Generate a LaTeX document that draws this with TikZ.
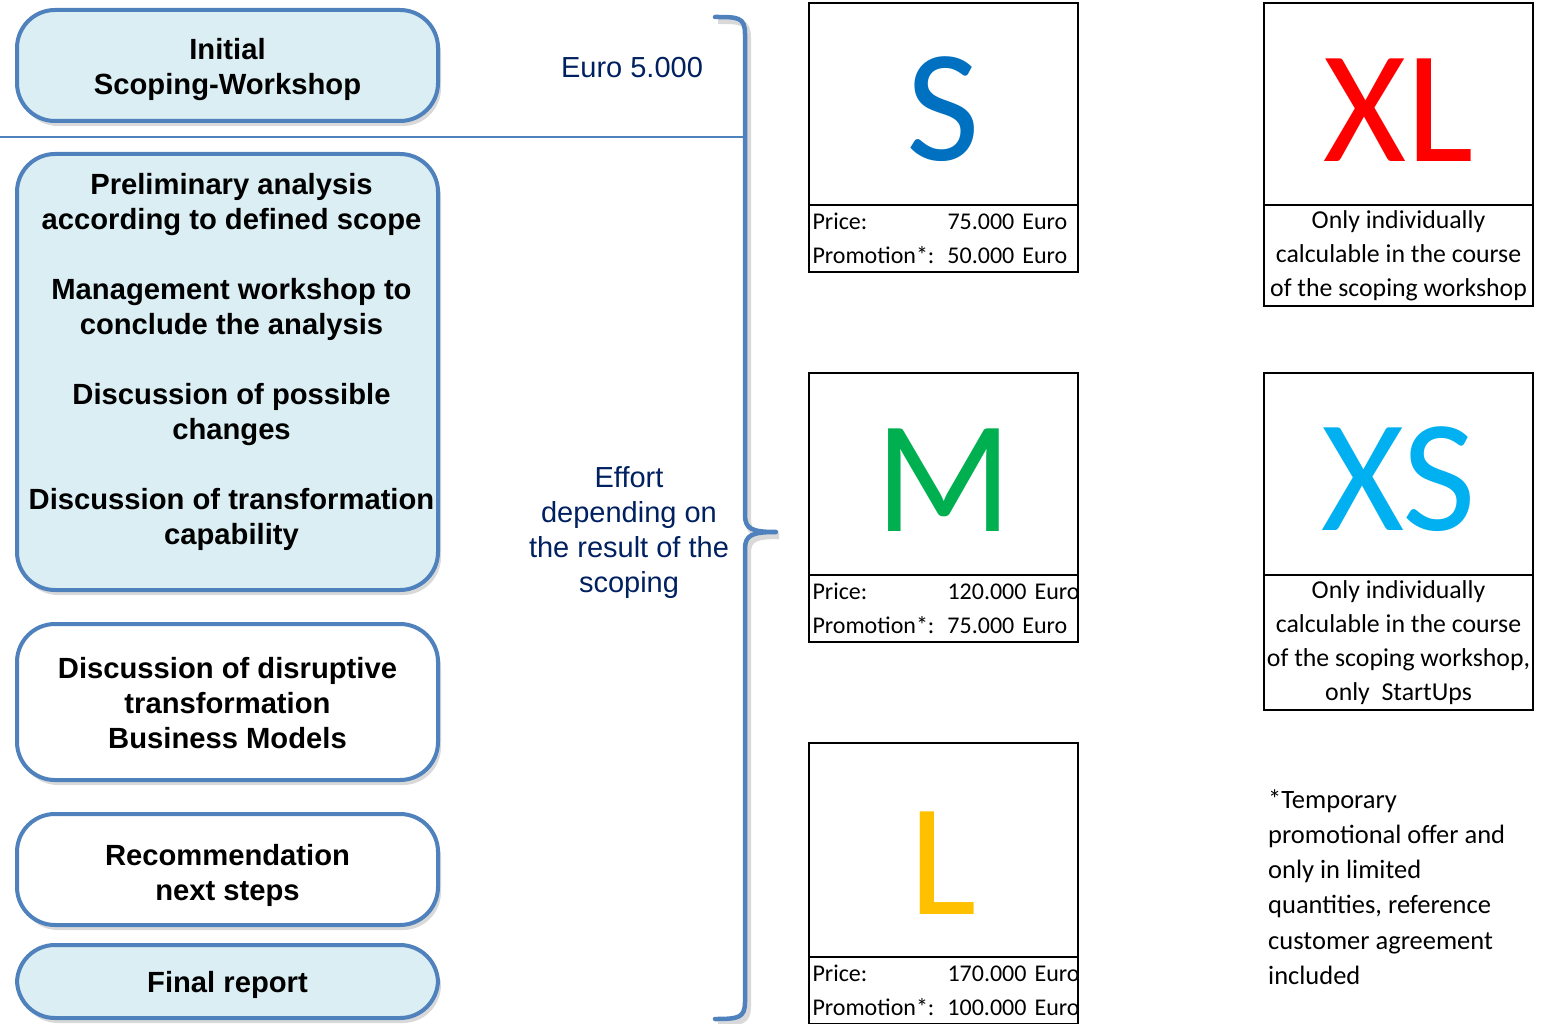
\documentclass[tikz,border=0pt]{standalone}
\usepackage{fontspec}
\setmainfont{Liberation Sans}
\newfontfamily\calibri{Carlito}
\usetikzlibrary{positioning,shadows}
\definecolor{frameblue}{HTML}{4F81BD}
\definecolor{phasefill}{HTML}{DAEEF3}
\definecolor{effortnavy}{HTML}{002060}
\definecolor{sizeS}{HTML}{0070C0}
\definecolor{sizeM}{HTML}{00B050}
\definecolor{sizeL}{HTML}{FFC000}
\definecolor{sizeXL}{HTML}{FF0000}
\definecolor{sizeXS}{HTML}{00B0F0}
\newcommand{\priceinfo}[2]{\mbox{\makebox[135pt][l]{Price:}#1 Euro}\\
  \mbox{\makebox[135pt][l]{Promotion*:}#2 Euro}}

\begin{document}
\begin{tikzpicture}[x=1pt,y=-1pt,
  phasetext/.style ={align=center, font=\bfseries\fontsize{29.2}{35}\selectfont},
  phase/.style ={draw=frameblue, line width=4pt, rounded corners=38pt,
    minimum width=421pt,
    drop shadow={shadow xshift=3pt, shadow yshift=-5pt, opacity=0.3}},
  effort/.style ={text=effortnavy, align=center, font=\fontsize{29}{35}\selectfont},
  letterbox/.style ={draw, line width=1.5pt, outer sep=0pt, minimum width=269pt,
    minimum height=202pt, text height=115pt, inner sep=0pt,
    font=\calibri\fontsize{160}{160}\selectfont},
  pricebox/.style ={draw, line width=1.5pt, outer sep=0pt, minimum width=269pt,
    text width=262pt, inner xsep=3.5pt, inner ysep=3pt, minimum height=67pt,
    align=left, font=\calibri\fontsize{24}{34}\selectfont},
  notebox/.style ={draw, line width=1.5pt, outer sep=0pt, minimum width=269pt,
    inner xsep=0pt, inner ysep=4pt, align=center,
    font=\calibri\fontsize{25.8}{34}\selectfont},
  brace/.style ={draw=frameblue, line width=4.5pt, line cap=round},
  braceshadow/.style ={draw=black, opacity=0.15, line width=6pt}]
 \useasboundingbox (0,0) rectangle (1541,1024);
 % phases on the left
 \node[phase, fill=phasefill, minimum height=111pt,
   label={[phasetext, yshift=-4pt]center:{Initial\\Scoping-Workshop}}]
   (scoping) at (227.5,65.5) {};
 \node[phase, fill=phasefill, minimum height=436pt,
   label={[phasetext, xshift=4pt, yshift=10pt]center:{Preliminary analysis\\according to defined scope\\[35pt]%
    Management workshop to\\conclude the analysis\\[35pt]%
    Discussion of possible\\changes\\[35pt]%
    Discussion of transformation\\capability}}]
   (analysis) at (227.5,372) {};
 \node[phase, fill=white, minimum height=156pt,
   label={[phasetext, yshift=-1pt]center:{Discussion of disruptive\\transformation\\Business Models}}]
   (disruptive) at (227.5,702) {};
 \node[phase, fill=white, minimum height=111pt,
   label={[phasetext, yshift=-6pt]center:{Recommendation\\next steps}}]
   (nextsteps) at (227.5,869.5) {};
 \node[phase, fill=phasefill, minimum height=73pt,
   label={[phasetext, yshift=-3pt]center:{Final report}}]
   (report) at (227.5,981.5) {};
 \coordinate (cutleft) at (0,137);
 \coordinate (cutright) at (745,137);
 \draw[frameblue, line width=1.5pt] (cutleft) -- (cutright);
 % effort
 \node[effort] (fee) at (632,68) {Euro 5.000};
 \node[effort] (depends) at (629,532.5)
   {Effort\\depending on\\the result of the\\scoping};
 \draw[braceshadow, xshift=3pt, yshift=-4pt] (715,17) .. controls (738,17) and (745,17) .. (745,34)
   -- (745,515) .. controls (745,529) and (752,532) .. (776,532)
   (776,532) .. controls (752,532) and (745,535) .. (745,549)
   -- (745,1002) .. controls (745,1018) and (738,1019) .. (715,1019);
 \draw[brace] (715,17) .. controls (738,17) and (745,17) .. (745,34)
   -- (745,515) .. controls (745,529) and (752,532) .. (776,532)
   (776,532) .. controls (752,532) and (745,535) .. (745,549)
   -- (745,1002) .. controls (745,1018) and (738,1019) .. (715,1019);
 % sizes
 \node[letterbox, text=sizeS] (sizeSmall) at (943.5,104) {S};
 \node[pricebox, below=0pt of sizeSmall] (priceSmall) {\priceinfo{75.000}{50.000}};
 \node[letterbox, text=sizeM] (sizeMedium) at (943.5,474) {M};
 \node[pricebox, below=0pt of sizeMedium] (priceMedium) {\priceinfo{120.000}{75.000}};
 \node[letterbox, text=sizeL, minimum height=214pt, text height=129pt] (sizeLarge) at (943.5,850) {L};
 \node[pricebox, below=0pt of sizeLarge] (priceLarge) {\priceinfo{170.000}{100.000}};
 \node[letterbox, text=sizeXL] (sizeXLarge) at (1398.5,104) {XL};
 \node[notebox, minimum height=101pt, below=0pt of sizeXLarge] (noteXLarge)
   {Only individually\\calculable in the course\\of the scoping workshop};
 \node[letterbox, text=sizeXS] (sizeXSmall) at (1398.5,474) {XS};
 \node[notebox, minimum height=135pt, below=0pt of sizeXSmall] (noteXSmall)
   {Only individually\\calculable in the course\\of the scoping workshop,\\only\ \ StartUps};
 \node[anchor=west, align=left, inner sep=0pt, font=\calibri\fontsize{26.5}{35.2}\selectfont]
   (footnote) at (1268,887)
   {*Temporary\\promotional offer and\\only in limited\\quantities, reference\\customer agreement\\included};
\end{tikzpicture}
\end{document}
